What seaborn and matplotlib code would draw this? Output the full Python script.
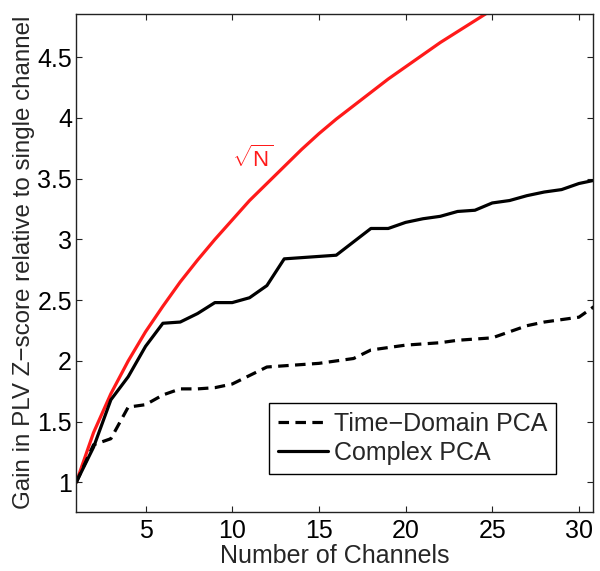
import numpy as np
import pandas as pd
import matplotlib
matplotlib.use("Agg")
import matplotlib.pyplot as plt
import seaborn as sns

# ---------------------------------------------------------------
# data
# ---------------------------------------------------------------
channels = list(range(1, 32))

time_domain_pca = [1.00, 1.31, 1.36, 1.62, 1.64, 1.72, 1.77, 1.77, 1.78, 1.81,
                   1.88, 1.95, 1.96, 1.97, 1.98, 2.00, 2.02, 2.09, 2.11, 2.13,
                   2.14, 2.15, 2.17, 2.18, 2.19, 2.24, 2.29, 2.32, 2.34, 2.36,
                   2.46]

complex_pca = [1.00, 1.29, 1.68, 1.87, 2.12, 2.31, 2.32, 2.39, 2.48, 2.48,
               2.52, 2.62, 2.84, 2.85, 2.86, 2.87, 2.98, 3.09, 3.09, 3.14,
               3.17, 3.19, 3.23, 3.24, 3.30, 3.32, 3.36, 3.39, 3.41, 3.46,
               3.49]

sqrt_n = [1.00, 1.41, 1.73, 2.00, 2.24, 2.45, 2.65, 2.83, 3.00, 3.16,
          3.32, 3.46, 3.60, 3.74, 3.87, 3.99, 4.10, 4.21, 4.32, 4.42,
          4.52, 4.62, 4.71, 4.80, 4.89, 4.98, 5.07, 5.15, 5.23, 5.31,
          5.39]

y_ticks = [1, 1.5, 2, 2.5, 3, 3.5, 4, 4.5]
x_ticks = [5, 10, 15, 20, 25, 30]

df = pd.DataFrame({
    "channels": channels,
    "time": time_domain_pca,
    "complex": complex_pca,
    "sqrt": sqrt_n,
})

# ---------------------------------------------------------------
# style
# ---------------------------------------------------------------
sns.set_style("ticks")
plt.rcParams["font.family"] = ["Liberation Sans", "DejaVu Sans"]
plt.rcParams["mathtext.fontset"] = "custom"
plt.rcParams["mathtext.rm"] = "Liberation Sans"

fig = plt.figure(figsize=(6.0, 5.71), dpi=100)
ax = fig.add_axes([0.127, 0.104, 0.861, 0.8715])

sns.lineplot(data=df, x="channels", y="sqrt", ax=ax, color="#ff1a1a",
             linewidth=2.3)
sns.lineplot(data=df, x="channels", y="time", ax=ax, color="black",
             linewidth=2.3, label="Time\u2212Domain PCA")
ax.lines[-1].set_dashes((3.3, 2.0))
sns.lineplot(data=df, x="channels", y="complex", ax=ax, color="black",
             linewidth=2.3, label="Complex PCA")

ax.text(11.2, 3.66, r"$\sqrt{\mathrm{N}}$", color="#ff1a1a", fontsize=16,
        ha="center", va="center")

ax.set_xlim(1, 30.8)
ax.set_ylim(0.76, 4.855)
ax.set_xticks(x_ticks)
ax.set_yticks(y_ticks)
ax.set_yticklabels([f"{v:g}" for v in y_ticks])

ax.tick_params(axis="both", direction="in", length=4, width=0.8,
               labelsize=18, top=True, right=True, colors="#222222",
               labelcolor="black")
ax.tick_params(axis="x", pad=5)
ax.tick_params(axis="y", pad=3)
for side in ax.spines.values():
    side.set_linewidth(1.0)
    side.set_color("#222222")

ax.set_xlabel("Number of Channels", fontsize=18, labelpad=1)
ax.set_ylabel("Gain in PLV Z\u2212score relative to single channel",
              fontsize=17.4, labelpad=2)

leg = ax.legend(loc="lower right", bbox_to_anchor=(0.929, 0.076),
                borderaxespad=0, fontsize=18, frameon=True, fancybox=False,
                handlelength=2.0, handletextpad=0.25, borderpad=0.35,
                labelspacing=0.2)
leg.get_frame().set_edgecolor("black")
leg.get_frame().set_linewidth(1.0)
leg.get_frame().set_alpha(1)

fig.savefig("out.png", dpi=100)
plt.close(fig)
